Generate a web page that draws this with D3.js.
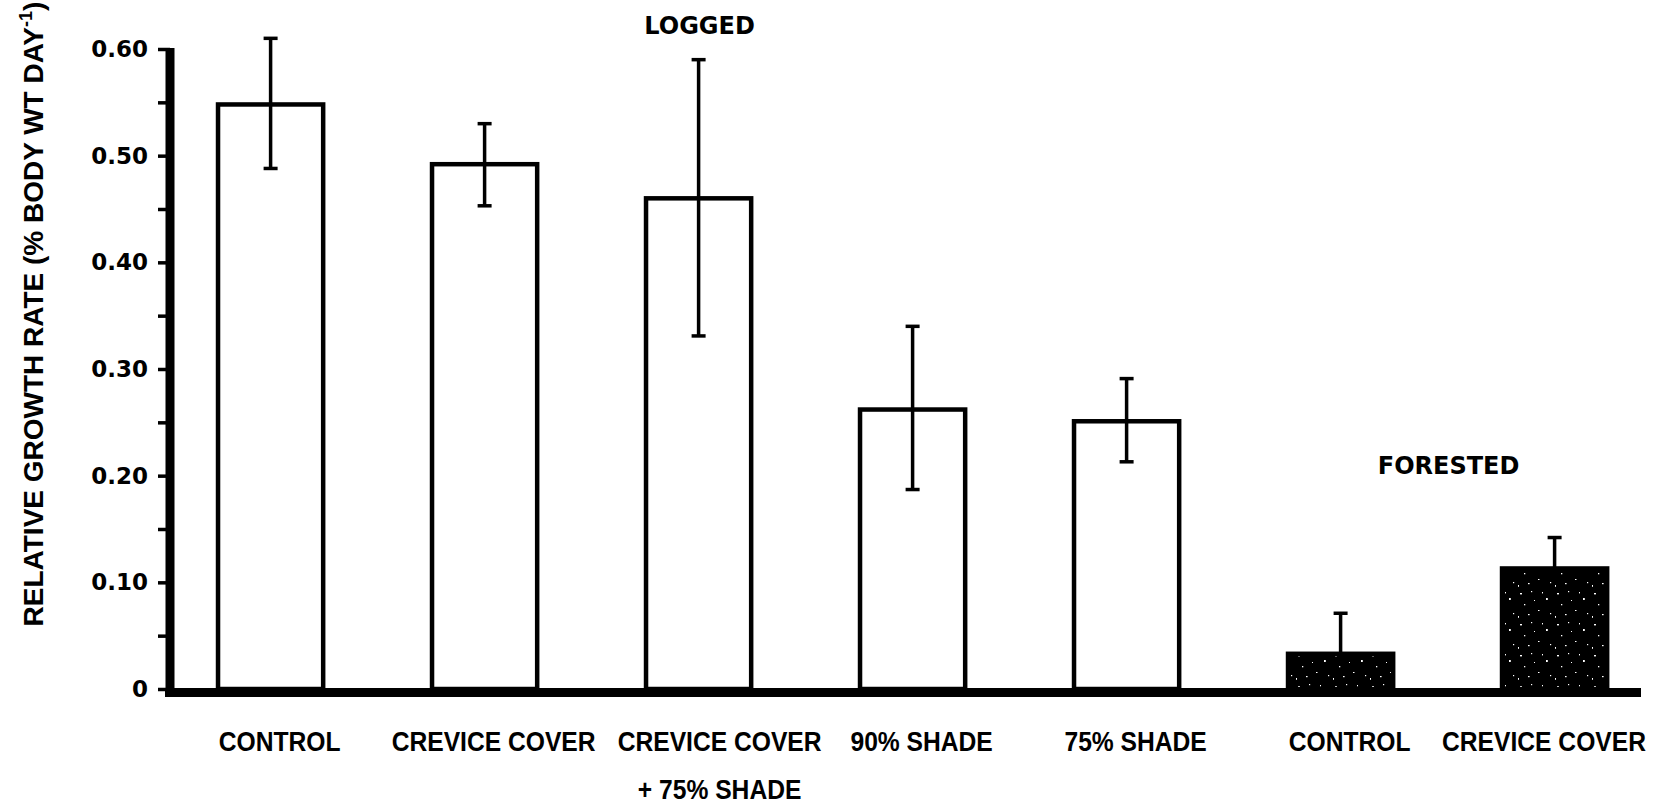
<!DOCTYPE html>
<html><head><meta charset="utf-8">
<script src="https://cdn.jsdelivr.net/npm/d3@7"></script>
<style>
body{margin:0;background:#fff;}
svg{display:block;}
</style></head>
<body>
<svg id="chart" width="1658" height="806"></svg>
<script>
// ---- data ----
const categoryIds = ["L1","L2","L3","L4","L5","F1","F2"];
const categoryLines = [["CONTROL"],["CREVICE COVER"],["CREVICE COVER","+ 75% SHADE"],["90% SHADE"],["75% SHADE"],["CONTROL"],["CREVICE COVER"]];
const groups = ["LOGGED","LOGGED","LOGGED","LOGGED","LOGGED","FORESTED","FORESTED"];
const values = [0.548, 0.492, 0.460, 0.262, 0.251, 0.033, 0.113];
const errHigh = [0.610, 0.530, 0.590, 0.340, 0.291, 0.071, 0.142];
const errLow  = [0.488, 0.453, 0.331, 0.187, 0.213, null, null];
const majorTicks = [0, 0.1, 0.2, 0.3, 0.4, 0.5, 0.6];
const minorTicks = [0.05, 0.15, 0.25, 0.35, 0.45, 0.55];
const groupTitles = ["LOGGED","FORESTED"];

const svg = d3.select("#chart");
const x = d3.scaleBand().domain(categoryIds).range([163.6, 1661.6]).paddingInner(0.49).paddingOuter(0.245);
const y = d3.scaleLinear().domain([0, 0.6]).range([689, 49]);
const axisX = 170;

// pattern for forested bars
const defs = svg.append("defs");
const pat = defs.append("pattern").attr("id","speck").attr("patternUnits","userSpaceOnUse").attr("width",37).attr("height",31);
pat.append("rect").attr("width",37).attr("height",31).attr("fill","#000");
[[3,4,2,1.4],[14,2,1.2,1.2],[29,9,1.8,2],[7,15,1.3,1.3],[21,21,1.5,1],[1,27,1,1.8],[17,11,1,1],[33,24,1.2,1.2],[25,3,1,1.4],[11,25,1.6,1.2]].forEach(d=>{
  pat.append("rect").attr("x",d[0]).attr("y",d[1]).attr("width",d[2]).attr("height",d[3]).attr("fill","#fff");
});

// bars
const idx = d3.range(categoryIds.length);
svg.append("g").selectAll("rect").data(idx).join("rect")
  .attr("x", i => x(categoryIds[i]) + 2)
  .attr("y", i => y(values[i]))
  .attr("width", x.bandwidth() - 4)
  .attr("height", i => y(0) - y(values[i]))
  .attr("fill", i => groups[i] === "FORESTED" ? "url(#speck)" : "#fff")
  .attr("stroke", "#000").attr("stroke-width", 4.5);

// error bars
const eg = svg.append("g").attr("stroke","#000");
idx.forEach(i => {
  const cx = x(categoryIds[i]) + x.bandwidth()/2;
  const lo = errLow[i] == null ? values[i] : errLow[i];
  eg.append("line").attr("x1",cx).attr("x2",cx).attr("y1",y(errHigh[i])).attr("y2",y(lo)).attr("stroke-width",3.5);
  eg.append("line").attr("x1",cx-7).attr("x2",cx+7).attr("y1",y(errHigh[i])).attr("y2",y(errHigh[i])).attr("stroke-width",3.5);
  if (errLow[i] != null)
    eg.append("line").attr("x1",cx-7).attr("x2",cx+7).attr("y1",y(errLow[i])).attr("y2",y(errLow[i])).attr("stroke-width",3.5);
});

// y axis
const yAxis = d3.axisLeft(y).tickValues(majorTicks).tickSize(12).tickSizeOuter(0).tickPadding(10)
  .tickFormat(d => d === 0 ? "0" : d3.format(".2f")(d));
const ga = svg.append("g").attr("transform", `translate(${axisX},0)`).call(yAxis);
ga.select(".domain").attr("stroke-width", 9).attr("stroke","#000").attr("d", `M0,${y(0.6)-1}V${y(0)+7}`);
ga.selectAll(".tick line").attr("stroke-width", 3.5).attr("stroke","#000");
ga.selectAll(".tick text").attr("fill","#000").style("font-family","'DejaVu Sans'").style("font-weight","bold").style("font-size","23px");
const gm = svg.append("g").attr("transform", `translate(${axisX},0)`)
  .call(d3.axisLeft(y).tickValues(minorTicks).tickSize(12).tickFormat(""));
gm.select(".domain").remove();
gm.selectAll(".tick line").attr("stroke-width", 3.5).attr("stroke","#000");

// baseline
svg.append("line").attr("x1", axisX - 5).attr("x2", 1641).attr("y1", y(0)+3.5).attr("y2", y(0)+3.5)
  .attr("stroke","#000").attr("stroke-width", 9);

// category labels (condensed via horizontal scale, with simple collision spacing)
const squeeze = 0.88;
const lab = svg.append("g").style("font-family","'Liberation Sans',sans-serif")
  .style("font-weight","bold").style("font-size","28px").attr("fill","#000");
let prevRight = -Infinity;
idx.forEach(i => {
  let cx = x(categoryIds[i]) + x.bandwidth()/2 + 9;
  const items = categoryLines[i].map((t, k) => {
    const g = lab.append("g");
    const tx = g.append("text").attr("x", 0).attr("y", 0).attr("text-anchor","middle").text(t);
    return {g, k, w: tx.node().getComputedTextLength() * squeeze};
  });
  const w0 = items[0].w;
  if (cx - w0/2 < prevRight + 22) cx = prevRight + 22 + w0/2;
  cx = Math.min(cx, 1646 - w0/2);
  prevRight = cx + w0/2;
  items.forEach(o => o.g.attr("transform", `translate(${cx},${751 + o.k*48}) scale(${squeeze},1)`));
});

// group titles
const tg = svg.append("g").style("font-family","'DejaVu Sans'").style("font-weight","bold").style("font-size","24px")
  .attr("text-anchor","middle").attr("fill","#000");
tg.append("text").attr("x", x("L3") + x.bandwidth()/2 + 1).attr("y", 34).text(groupTitles[0]);
tg.append("text").attr("x", x("F1") + x.bandwidth()/2 + 108).attr("y", 474).text(groupTitles[1]);

// y title
const yt = svg.append("text").attr("transform","translate(43,314) rotate(-90)")
  .attr("text-anchor","middle").attr("fill","#000")
  .style("font-family","'Liberation Sans'").style("font-weight","bold").style("font-size","28px");
yt.append("tspan").text("RELATIVE GROWTH RATE (% BODY WT DAY");
yt.append("tspan").attr("dy",-11).style("font-size","18px").text("-1");
yt.append("tspan").attr("dy",11).text(")");
</script>
</body></html>
